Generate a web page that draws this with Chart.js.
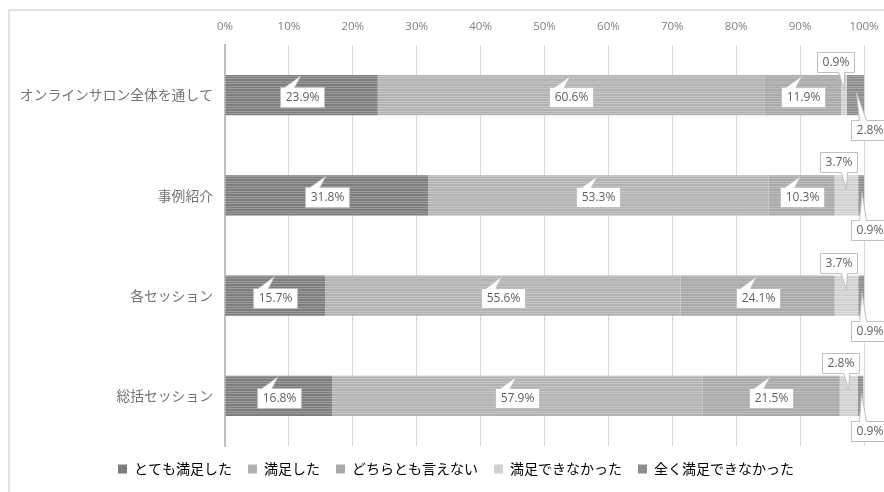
<!DOCTYPE html>
<html>
<head>
<meta charset="utf-8">
<script src="https://cdn.jsdelivr.net/npm/chart.js@4/dist/chart.umd.min.js"></script>
<style>
html,body{margin:0;padding:0;background:#fff;}
#wrap{position:relative;width:884px;height:492px;}
</style>
</head>
<body>
<div id="wrap"><canvas id="c" width="884" height="492"></canvas></div>
<script>
// ---- data ----
const categories = ['オンラインサロン全体を通して', '事例紹介', '各セッション', '総括セッション'];
const seriesNames = ['とても満足した', '満足した', 'どちらとも言えない', '満足できなかった', '全く満足できなかった'];
const verySatisfied   = [23.9, 31.8, 15.7, 16.8];
const satisfied       = [60.6, 53.3, 55.6, 57.9];
const neutral         = [11.9, 10.3, 24.1, 21.5];
const unsatisfied     = [0.9, 3.7, 3.7, 2.8];
const veryUnsatisfied = [2.8, 0.9, 0.9, 0.9];
const seriesValues = [verySatisfied, satisfied, neutral, unsatisfied, veryUnsatisfied];

// ---- styles ----
const baseColors  = ['#7d7d7d', '#b2b2b2', '#a9a9a9', '#d0d0d0', '#8d8d8d'];
const lineColors  = ['#9c9c9c', '#c6c6c6', '#bdbdbd', '#dfdfdf', '#a6a6a6'];
const FONT_NUM = "'Open Sans', 'Noto Sans CJK JP', sans-serif";
const FONT_JP = "'Noto Sans CJK JP', 'Open Sans', sans-serif";

function makePattern(base, line) {
  const p = document.createElement('canvas');
  p.width = 4; p.height = 5;
  const g = p.getContext('2d');
  g.fillStyle = base; g.fillRect(0, 0, 4, 5);
  g.fillStyle = line; g.fillRect(0, 1, 4, 1); g.fillRect(0, 3, 4, 1);
  return g.createPattern(p, 'repeat');
}

const datasets = seriesNames.map((name, i) => ({
  label: name,
  data: seriesValues[i],
  backgroundColor: makePattern(baseColors[i], lineColors[i]),
  borderWidth: 0,
  barPercentage: 0.4,
  categoryPercentage: 1.0
}));

const framePlugin = {
  id: 'frame',
  afterLayout(chart) {
    if (chart.legend) { chart.legend.left += 48; }
  },
  beforeDraw(chart) {
    const ctx = chart.ctx;
    ctx.save();
    ctx.strokeStyle = '#d9d9d9';
    ctx.lineWidth = 1.5;
    ctx.beginPath();
    ctx.moveTo(9, 492); ctx.lineTo(9, 10); ctx.lineTo(884, 10);
    ctx.stroke();
    ctx.restore();
  }
};

function callout(ctx, x0, y0, w, h, side, a, b, tx, ty, text) {
  ctx.beginPath();
  if (side === 'top') {
    ctx.moveTo(x0, y0); ctx.lineTo(a, y0); ctx.lineTo(tx, ty); ctx.lineTo(b, y0);
    ctx.lineTo(x0 + w, y0); ctx.lineTo(x0 + w, y0 + h); ctx.lineTo(x0, y0 + h);
  } else {
    ctx.moveTo(x0, y0); ctx.lineTo(x0 + w, y0); ctx.lineTo(x0 + w, y0 + h);
    ctx.lineTo(b, y0 + h); ctx.lineTo(tx, ty); ctx.lineTo(a, y0 + h); ctx.lineTo(x0, y0 + h);
  }
  ctx.closePath();
  ctx.fillStyle = '#ffffff';
  ctx.fill();
  ctx.strokeStyle = '#bfbfbf';
  ctx.lineWidth = 1;
  ctx.stroke();
  ctx.fillStyle = '#5f5f5f';
  ctx.fillText(text, x0 + w / 2, y0 + h / 2 + 0.5);
}

const labelPlugin = {
  id: 'callouts',
  afterDatasetsDraw(chart) {
    const ctx = chart.ctx;
    ctx.save();
    ctx.font = '12px ' + FONT_NUM;
    ctx.textAlign = 'center';
    ctx.textBaseline = 'middle';
    const h = 20;
    chart.data.datasets.forEach((ds, d) => {
      const meta = chart.getDatasetMeta(d);
      meta.data.forEach((bar, i) => {
        const v = ds.data[i];
        const text = v.toFixed(1) + '%';
        const w = Math.round(ctx.measureText(text).width + 10);
        const left = Math.min(bar.x, bar.base), right = Math.max(bar.x, bar.base);
        const segC = (left + Math.min(right, chart.chartArea.right)) / 2;
        const top = bar.y - bar.height / 2, bottom = bar.y + bar.height / 2;
        if (d <= 2) {
          const x0 = Math.round(segC - w / 2) + 0.5;
          const y0 = Math.round(bar.y - 8) + 0.5;
          callout(ctx, x0, y0, w, h, 'top', segC - 17, segC - 7, segC - 1, top + 1, text);
        } else if (d === 3) {
          const x0 = Math.round(segC - 8 - w / 2) + 0.5;
          const y0 = Math.round(top - h - 3) + 0.5;
          callout(ctx, x0, y0, w, h, 'bottom', segC - 5, segC + 1, segC, top + 14, text);
        } else {
          const x0 = Math.round(chart.chartArea.right - 13) + 0.5;
          const y0 = Math.round(bottom + 5) + 0.5;
          callout(ctx, x0, y0, w, h, 'top', x0 + 8, x0 + 15, segC + 1, bar.y - 3, text);
        }
      });
    });
    ctx.restore();
  }
};

new Chart(document.getElementById('c'), {
  type: 'bar',
  data: { labels: categories, datasets },
  plugins: [framePlugin, labelPlugin],
  options: {
    indexAxis: 'y',
    responsive: false,
    animation: false,
    layout: { padding: { top: 0, right: 20, bottom: 6, left: 0 } },
    scales: {
      x: {
        position: 'top',
        stacked: true,
        min: 0, max: 100,
        ticks: {
          stepSize: 10,
          padding: 11,
          color: '#7f7f7f',
          font: { size: 11.5, family: FONT_NUM },
          callback: v => v + '%'
        },
        grid: { color: '#d9d9d9', lineWidth: 1, drawTicks: false },
        border: { display: false },
        afterFit(scale) { scale.height = 45; scale.paddingRight = 0; scale.paddingLeft = 0; }
      },
      y: {
        stacked: true,
        ticks: {
          padding: 12,
          color: '#737373',
          font: { size: 13.8, family: FONT_JP }
        },
        grid: { display: false, drawTicks: false },
        border: { display: true, color: '#bfbfbf', width: 2 },
        afterFit(scale) { scale.width = 225; }
      }
    },
    plugins: {
      tooltip: { enabled: false },
      legend: {
        position: 'bottom',
        labels: {
          boxWidth: 9,
          boxHeight: 9,
          padding: 16,
          color: '#737373',
          font: { size: 14, family: FONT_JP },
          generateLabels(chart) {
            return chart.data.datasets.map((ds, i) => ({
              text: ds.label,
              fillStyle: baseColors[i],
              strokeStyle: baseColors[i],
              lineWidth: 0,
              hidden: false,
              datasetIndex: i
            }));
          }
        }
      }
    }
  }
});
</script>
</body>
</html>
